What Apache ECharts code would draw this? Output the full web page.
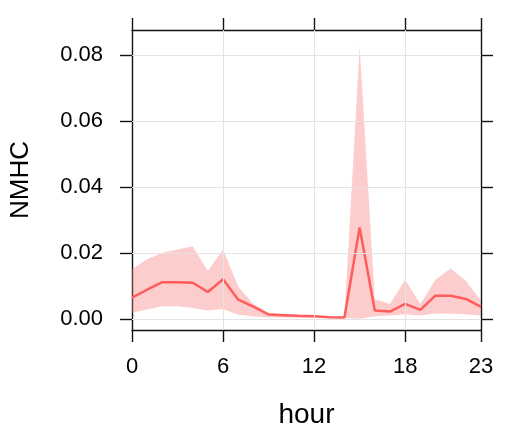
<!DOCTYPE html>
<html>
<head>
<meta charset="utf-8">
<script src="https://cdn.jsdelivr.net/npm/echarts@6/dist/echarts.min.js"></script>
<style>html,body{margin:0;padding:0;background:#fff;}#c{width:508px;height:434px;}</style>
</head>
<body>
<div id="c"></div>
<script>
var hours = [0,1,2,3,4,5,6,7,8,9,10,11,12,13,14,15,16,17,18,19,20,21,22,23];
var meanVals  = [0.0064,0.0088,0.0111,0.0111,0.0109,0.0081,0.0120,0.0058,0.0037,0.0013,0.0011,0.0009,0.0008,0.0005,0.0004,0.0277,0.0025,0.0022,0.0045,0.0027,0.0070,0.0070,0.0060,0.0036];
var upperVals = [0.0150,0.0180,0.0200,0.0210,0.0220,0.0145,0.0210,0.0098,0.0045,0.0018,0.0013,0.0011,0.0010,0.0007,0.0005,0.0825,0.0060,0.0045,0.0118,0.0045,0.0118,0.0152,0.0115,0.0055];
var lowerVals = [0.0018,0.0028,0.0038,0.0038,0.0033,0.0025,0.0030,0.0012,0.0008,0.0004,0.0004,0.0003,0.0003,0.0003,0.0002,0.0000,0.0008,0.0010,0.0014,0.0010,0.0016,0.0016,0.0014,0.0010];
var xTicks = [0,6,12,18,23];
var yTicks = [0,0.02,0.04,0.06,0.08];
var xGrid = [6,12,18];

var meanPairs = hours.map(function(h,i){return [h, meanVals[i]];});

var gridMarks = [];
yTicks.forEach(function(v){gridMarks.push({yAxis:v});});
xGrid.forEach(function(v){gridMarks.push({xAxis:v});});

var FONT = 'Liberation Sans, Arial, sans-serif';
var tickStyle = {color:'#111', width:1.4};
var chart = echarts.init(document.getElementById('c'));
chart.setOption({
  animation:false,
  backgroundColor:'#fff',
  grid:{left:132, right:27, top:30, bottom:101, show:false},
  xAxis:[{
    type:'value', min:0, max:23, position:'bottom',
    axisLine:{show:true, onZero:false, lineStyle:tickStyle},
    axisTick:{show:true, customValues:xTicks, length:12, lineStyle:tickStyle},
    axisLabel:{customValues:xTicks, color:'#000', fontSize:22, fontFamily:FONT, margin:26},
    splitLine:{show:false},
    name:'hour', nameLocation:'middle', nameGap:71,
    nameTextStyle:{color:'#000', fontSize:28, fontFamily:FONT}
  },{
    type:'value', min:0, max:23, position:'top',
    axisLine:{show:true, onZero:false, lineStyle:tickStyle},
    axisTick:{show:true, customValues:xTicks, length:12, lineStyle:tickStyle},
    axisLabel:{show:false},
    splitLine:{show:false}
  }],
  yAxis:[{
    type:'value', min:-0.0034, max:0.0875, position:'left',
    axisLine:{show:true, onZero:false, lineStyle:tickStyle},
    axisTick:{show:true, customValues:yTicks, length:12, lineStyle:tickStyle},
    axisLabel:{customValues:yTicks, color:'#000', fontSize:22, fontFamily:FONT, margin:29,
      formatter:function(v){return v.toFixed(2);}},
    splitLine:{show:false},
    name:'NMHC', nameLocation:'middle', nameGap:98,
    nameTextStyle:{color:'#000', fontSize:26, fontFamily:FONT}
  },{
    type:'value', min:-0.0034, max:0.0875, position:'right',
    axisLine:{show:true, onZero:false, lineStyle:tickStyle},
    axisTick:{show:true, customValues:yTicks, length:12, lineStyle:tickStyle},
    axisLabel:{show:false},
    splitLine:{show:false}
  }],
  series:[{
    type:'line', data:[], xAxisIndex:0, yAxisIndex:0, z:1, silent:true,
    markLine:{silent:true, symbol:['none','none'], label:{show:false},
      lineStyle:{color:'#e3e3e3', width:1, type:'solid'}, data:gridMarks, animation:false}
  },{
    type:'custom', z:2, silent:true, clip:true,
    data:[[0,0]],
    renderItem:function(params, api){
      var pts = [];
      for (var i=0;i<hours.length;i++) pts.push(api.coord([hours[i], upperVals[i]]));
      for (var j=hours.length-1;j>=0;j--) pts.push(api.coord([hours[j], lowerVals[j]]));
      return {type:'polygon', shape:{points:pts}, style:{fill:'rgba(250,120,120,0.38)'}};
    }
  },{
    type:'line', data:meanPairs, symbol:'none', z:3,
    lineStyle:{color:'#FF5C5C', width:2.5}, silent:true
  }]
});
</script>
</body>
</html>
